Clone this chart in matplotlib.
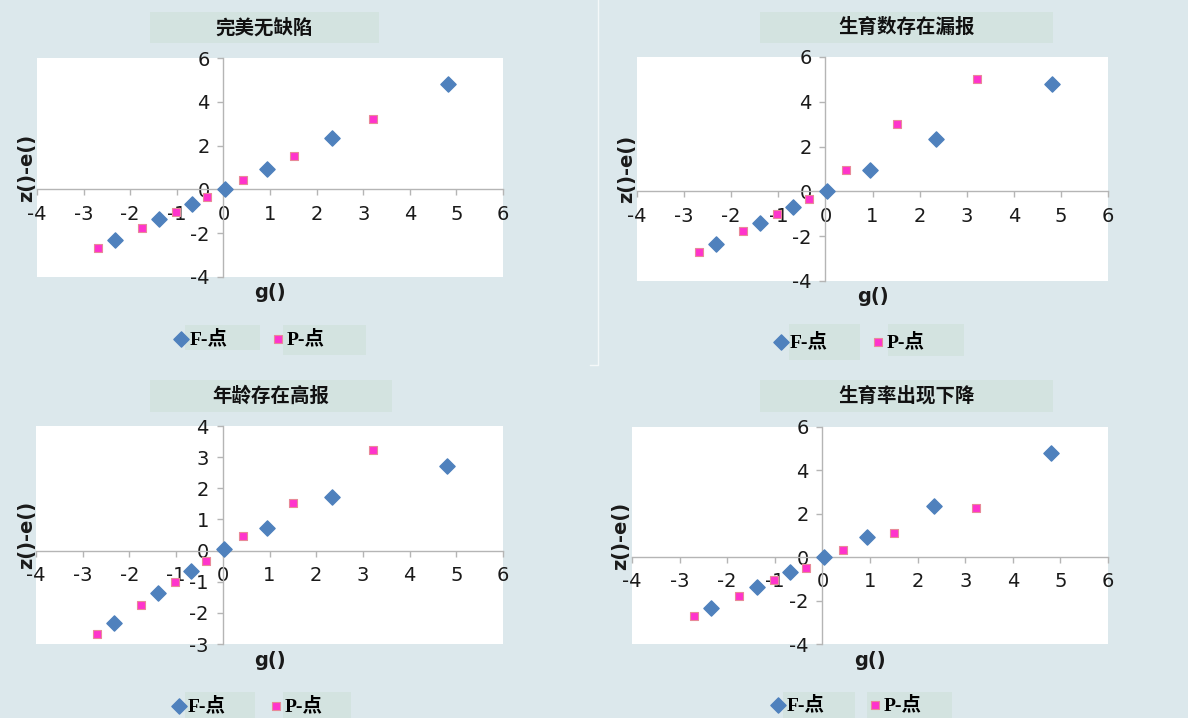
import matplotlib
matplotlib.use("Agg")
import matplotlib.pyplot as plt
from matplotlib.patches import Rectangle
from matplotlib.lines import Line2D

plt.rcParams['font.family'] = ['DejaVu Sans', 'Noto Sans CJK SC']
plt.rcParams['axes.unicode_minus'] = False

W, H = 1188, 718

titles = ['完美无缺陷', '生育数存在漏报', '年龄存在高报', '生育率出现下降']

# x positions are the same in all four panels
f_x = [-2.33, -1.38, -0.68, 0.03, 0.94, 2.34, 4.81]
p_x = [-2.69, -1.75, -1.02, -0.35, 0.43, 1.51, 3.22]

f_y_tl = [-2.33, -1.37, -0.65, 0.02, 0.94, 2.36, 4.82]
f_y_tr = [-2.36, -1.39, -0.69, 0.00, 0.94, 2.33, 4.81]
f_y_bl = [-2.33, -1.37, -0.65, 0.04, 0.71, 1.73, 2.70]
f_y_br = [-2.33, -1.38, -0.66, 0.03, 0.95, 2.36, 4.82]

p_y_tl = [-2.68, -1.77, -1.02, -0.35, 0.41, 1.51, 3.23]
p_y_tr = [-2.72, -1.76, -1.01, -0.36, 0.94, 3.00, 5.01]
p_y_bl = [-2.68, -1.75, -1.00, -0.33, 0.46, 1.53, 3.23]
p_y_br = [-2.73, -1.78, -1.06, -0.51, 0.31, 1.12, 2.25]

f_ys = [f_y_tl, f_y_tr, f_y_bl, f_y_br]
p_ys = [p_y_tl, p_y_tr, p_y_bl, p_y_br]
y_ranges = [(-4, 6, 2), (-4, 6, 2), (-3, 4, 1), (-4, 6, 2)]
legend_labels = ['F-点', 'P-点']

# layout in pixels (left, top, right, bottom)
plot_boxes = [(37, 58, 503, 277), (637, 57, 1108, 281),
              (36, 426, 503, 644), (632, 427, 1108, 644)]
title_boxes = [(150, 12, 379, 43), (760, 12, 1053, 43),
               (150, 380, 392, 412), (760, 380, 1053, 412)]
ylabel_x = [27, 627, 27, 621]
legend_pos = [(175, 339), (775, 342), (173, 706), (772, 705)]
legend_boxes = [[(185, 325, 260, 350), (283, 325, 366, 355)],
                [(789, 324, 860, 360), (888, 324, 964, 356)],
                [(185, 692, 255, 718), (283, 692, 351, 718)],
                [(783, 692, 855, 718), (867, 692, 952, 718)]]

bg = '#dce8ec'
box_col = '#d3e3e0'
axis_col = '#b5b5b5'
blue = '#4f81bd'
pink = '#ff33cc'


def fx(px):
    return px / W


def fy(py):
    return 1 - py / H


def fig_rect(fig, box, color):
    l, t, r, b = box
    fig.add_artist(Rectangle((fx(l), fy(b)), fx(r) - fx(l), fy(t) - fy(b),
                             transform=fig.transFigure, facecolor=color,
                             edgecolor='none', zorder=0))


fig = plt.figure(figsize=(W / 100, H / 100), dpi=100, facecolor=bg)

# faint separator line
fig.add_artist(Line2D([fx(598), fx(598), fx(590)], [fy(0), fy(365), fy(365)],
                      transform=fig.transFigure, color='white', lw=1, alpha=0.7))

for i in range(4):
    l, t, r, b = plot_boxes[i]
    ax = fig.add_axes([fx(l), fy(b), fx(r) - fx(l), fy(t) - fy(b)])
    ax.set_facecolor('white')

    fs = ax.scatter(f_x, f_ys[i], marker='D', s=60, color=blue, zorder=3,
                    clip_on=False, label=legend_labels[0])
    ps = ax.scatter(p_x, p_ys[i], marker='s', s=40, color=pink,
                    edgecolors='#e88a98', linewidths=0.8, zorder=3,
                    clip_on=False, label=legend_labels[1])

    y0, y1, step = y_ranges[i]
    ax.set_xlim(-4, 6)
    ax.set_ylim(y0, y1)
    ax.set_xticks(range(-4, 7))
    ax.set_yticks(range(y0, y1 + 1, step))

    for side in ['top', 'right']:
        ax.spines[side].set_visible(False)
    for side in ['left', 'bottom']:
        ax.spines[side].set_position(('data', 0))
        ax.spines[side].set_color(axis_col)
        ax.spines[side].set_linewidth(1)
    ax.tick_params(direction='out', length=4, width=1, color=axis_col,
                   labelsize=14, labelcolor='#1a1a1a')
    ax.tick_params(axis='x', pad=7)
    ax.tick_params(axis='y', pad=6)

    ax.text((ylabel_x[i] - l) / (r - l), 0.5, 'z()-e()', transform=ax.transAxes,
            rotation=90, ha='center', va='center', fontsize=14,
            fontweight='bold', color='#1a1a1a')
    ax.text(0.5, -16 / (b - t), 'g()', transform=ax.transAxes, ha='center',
            va='center', fontsize=14, fontweight='bold', color='#1a1a1a')

    # title box
    fig_rect(fig, title_boxes[i], box_col)
    tl, tt, tr, tb = title_boxes[i]
    fig.text(fx((tl + tr) / 2), fy((tt + tb) / 2), titles[i], ha='center',
             va='center', fontsize=14, fontweight='bold',
             family=['Noto Sans CJK SC'], color='#111111')

    # legend
    for lb in legend_boxes[i]:
        fig_rect(fig, lb, box_col)
    lx, ly = legend_pos[i]
    fig.legend(handles=[fs, ps], labels=legend_labels, loc='center left',
               bbox_to_anchor=(fx(lx), fy(ly)), ncol=2, frameon=False,
               borderaxespad=0, borderpad=0, handlelength=0.6,
               handletextpad=0.15, columnspacing=2.3,
               prop={'family': ['Liberation Serif', 'Noto Sans CJK SC'],
                     'weight': 'bold', 'size': 14})

fig.savefig('out.png', dpi=100, facecolor=bg)
